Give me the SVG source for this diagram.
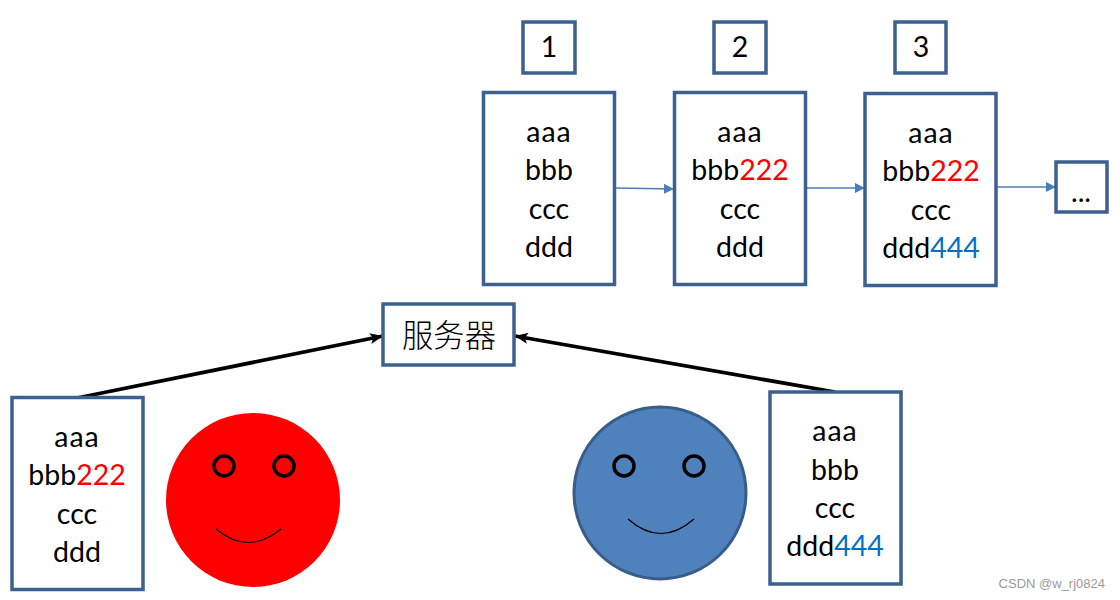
<svg xmlns="http://www.w3.org/2000/svg" width="1120" height="600" viewBox="0 0 1120 600">
<style>
.box{fill:#fff;stroke:#3c6090;stroke-width:3.5}
.t{font-family:Lato,"Liberation Sans",sans-serif;font-size:28.500px;fill:#000;text-anchor:middle}
.w{letter-spacing:1px}
.r{fill:#f00}.b{fill:#0070c0}
.thin{stroke:#4a7ebb;stroke-width:1.5;fill:none;marker-end:url(#ah)}
.thick{stroke:#000;stroke-width:3.8;fill:none;marker-end:url(#bh)}
.eye{fill:none;stroke:#000;stroke-width:3.5}
.sm{fill:none;stroke:#000;stroke-width:1.2}
</style>
<defs>
<marker id="ah" markerUnits="userSpaceOnUse" markerWidth="11" markerHeight="10" refX="10" refY="5" orient="auto"><path d="M0 0L10 5L0 10Z" fill="#4a7ebb"/></marker>
<marker id="bh" markerUnits="userSpaceOnUse" markerWidth="14" markerHeight="11" refX="13" refY="5.5" orient="auto"><path d="M0 0L13 5.5L0 11L3 5.500Z" fill="#000"/></marker>
</defs>
<rect width="1120" height="600" fill="#fff"/>
<g id="connectors">
<path class="thin" d="M615 188L674 189"/>
<path class="thin" d="M806 188L865 188"/>
<path class="thin" d="M997 187L1056 187"/>
<path class="thick" d="M77 398L383 336"/>
<path class="thick" d="M835 392L515 336"/>
</g>
<g id="n1"><rect class="box" x="523" y="22" width="52" height="51"/><text class="t" x="549" y="57">1</text></g>
<g id="n2"><rect class="box" x="714" y="22" width="52" height="51"/><text class="t" x="740" y="57">2</text></g>
<g id="n3"><rect class="box" x="895" y="22" width="51" height="51"/><text class="t" x="921" y="57">3</text></g>
<g id="doc1"><rect class="box" x="483.500" y="92.500" width="131" height="192"/>
<text class="t w" x="549" y="142">aaa</text><text class="t" x="549" y="180">bbb</text><text class="t" x="549" y="219">ccc</text><text class="t" x="549" y="257">ddd</text></g>
<g id="doc2"><rect class="box" x="674.500" y="92.500" width="131" height="192"/>
<text class="t w" x="740" y="142">aaa</text><text class="t" x="740" y="180">bbb<tspan class="r">222</tspan></text><text class="t" x="740" y="219">ccc</text><text class="t" x="740" y="257">ddd</text></g>
<g id="doc3"><rect class="box" x="865" y="93.500" width="131" height="192"/>
<text class="t w" x="931" y="143">aaa</text><text class="t" x="931" y="181">bbb<tspan class="r">222</tspan></text><text class="t" x="931" y="220">ccc</text><text class="t" x="931" y="258">ddd<tspan class="b">444</tspan></text></g>
<g id="more"><rect class="box" x="1056" y="162" width="51" height="50"/><text class="t" x="1081" y="202">...</text></g>
<g id="server"><rect class="box" x="383" y="304" width="131" height="61"/><text x="449" y="347" font-family="'Noto Sans CJK SC',sans-serif" font-size="31.300" font-weight="300" text-anchor="middle">服务器</text></g>
<g id="docL"><rect class="box" x="12" y="397.500" width="131" height="192"/>
<text class="t w" x="77" y="447">aaa</text><text class="t" x="77" y="485">bbb<tspan class="r">222</tspan></text><text class="t" x="77" y="524">ccc</text><text class="t" x="77" y="562">ddd</text></g>
<g id="red"><circle cx="253" cy="500" r="87" fill="#f00"/><circle class="eye" cx="224" cy="466" r="10"/><circle class="eye" cx="284" cy="466" r="10"/><path class="sm" d="M216 529Q248 556 281 529"/></g>
<g id="blue"><circle cx="660" cy="493" r="86" fill="#4f81bd" stroke="#385d8a" stroke-width="3"/><circle class="eye" cx="624" cy="466" r="10"/><circle class="eye" cx="694" cy="466" r="10"/><path class="sm" d="M628 519Q661 548 694 519"/></g>
<g id="docR"><rect class="box" x="770" y="392" width="131" height="192"/>
<text class="t w" x="835" y="441">aaa</text><text class="t" x="835" y="480">bbb</text><text class="t" x="835" y="518">ccc</text><text class="t" x="835" y="556">ddd<tspan class="b">444</tspan></text></g>
<text x="1105" y="588" font-family="'Liberation Sans',sans-serif" font-size="13" fill="#999" text-anchor="end">CSDN @w_rj0824</text>
</svg>
